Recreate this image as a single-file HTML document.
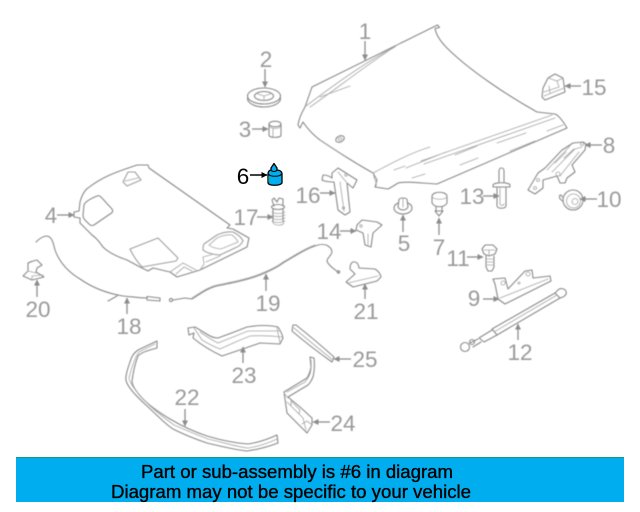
<!DOCTYPE html>
<html><head><meta charset="utf-8"><style>
html,body{margin:0;padding:0;background:#fff;width:640px;height:512px;overflow:hidden}
svg{display:block}
.d{fill:none;stroke:#8a8a8a;stroke-width:1.1;stroke-linejoin:round;stroke-linecap:round}
.w{fill:#fff;stroke:#8a8a8a;stroke-width:1.1;stroke-linejoin:round}
.l{fill:none;stroke:#a8a8a8;stroke-width:.85;stroke-linecap:round}
.t{font-family:"Liberation Sans",sans-serif;font-size:22.500px;fill:#999;text-anchor:middle}
.a{stroke:#8c8c8c;stroke-width:1.3;fill:none}
.soft{filter:blur(.4px)}
</style></head><body>
<svg width="640" height="512" viewBox="0 0 640 512" xmlns="http://www.w3.org/2000/svg">
<defs>
<marker id="ah" markerWidth="7" markerHeight="7" refX="5.500" refY="3" orient="auto" markerUnits="userSpaceOnUse"><path d="M0,0L6,3L0,6Z" fill="#8c8c8c"/></marker>
<marker id="ak" markerWidth="7" markerHeight="7" refX="5.500" refY="3" orient="auto" markerUnits="userSpaceOnUse"><path d="M0,0L6,3L0,6Z" fill="#000"/></marker>
</defs>
<g class="soft">
<!-- hood -->
<path class="d" d="M312,87L437.500,25L439.500,27.500L435,28.500C436,34 440,41 447,48C470,71 510,97 537,112L555,114Q560,116 567,128L437,184C420,183 405,181 398,183Q392,187 388,189L375,187L377,180L373,173C355,163 335,150 320,140C312,134 307,128 303,122L300,128L298,125C299,118 302,112 305,107Z"/>
<path class="l" d="M306,106C330,88 365,62 395,47"/>
<path class="l" d="M310,107C335,90 370,62 402,42"/>
<path class="l" d="M320,97L350,86"/>
<path class="l" d="M320,140C330,147 340,153 347,158"/>
<ellipse class="d" cx="340" cy="139" rx="4.500" ry="3" transform="rotate(-25 340 139)"/>
<ellipse class="l" cx="340" cy="139" rx="2" ry="1.200" transform="rotate(-25 340 139)"/>
<path class="l" d="M373,173C390,164 410,153 430,147"/>
<path class="l" d="M421,161L552,115M424,164L555,118M394,170L405,166M406,168L446,152M455,155L477,146M460,165L478,158M497,143L526,133M547,131L563,125M510,151L535,141M412,178L425,174"/>
<path class="l" d="M374,173C372,178 378,182 376,186"/>
<!-- pad -->
<path class="d" d="M137,165L148,165L149,168L230,225L227,228L233,229L249,238L247,247L200,270L177,277L170,272L153,268L148,271L140,267L127,260C115,256 108,252 103,247C98,240 96,238 92,235L80,223L80,218L74,217L74,212L79,211L80,202C82,195 85,190 88,188C105,175 120,171 137,165Z"/>
<path class="d" d="M97,196Q99,195 101,197L112,209Q114,212 110,214L94,225Q92,226 90,225L85,220Q83,218 83,215L84,205Q85,201 97,196Z"/>
<path class="d" d="M128,172L135,172L141,180L127,186L123,182Z" style="stroke:#a0a0a0"/>
<path class="l" d="M125,181L138,178"/>
<path class="d" d="M130,249L158,238L178,258L176,261L142,267Q134,258 130,249Z" style="stroke:#a0a0a0"/>
<path class="d" d="M217,235Q226,231 233,232Q241,236 243,241Q240,246 237,247L220,255Q208,254 203,250Q203,245 204,244Z" style="stroke:#a0a0a0"/>
<path class="l" d="M217,238Q226,234 232,235Q237,239 238,242L221,249Q212,248 209,245Z"/>
<path class="l" d="M170,272L183,263L196,270M176,274L184,267L192,271M200,270L204,264L203,257L214,254M206,262L220,256"/>
<!-- cable 18 -->
<path class="d" d="M36,242C40,238 44,236 47,236C52,237 53,242 55,250C60,264 70,273 80,279C90,286 105,293 123,296C133,297 140,298 147,298"/>
<path class="d" d="M147,296.500L160,298L160,301L147,300ZM108,301L117,296"/>
<!-- cable 19 -->
<circle class="d" cx="171" cy="300" r="1.600"/>
<path class="d" d="M173,300L185,298L192,299C200,294 208,288 217,286C232,283 247,280 260,275C270,271 278,267 283,263C292,258 305,249 315,246C320,244 325,244 328,246C331,248 332,250 332,252C331,256 327,258 327,261C328,265 334,269 338,272"/>
<path class="l" d="M192,298C200,293 208,287 217,285C232,282 247,279 260,274C270,270 278,266 283,262C292,257 305,248 315,245"/>
<circle class="d" cx="338.500" cy="272" r="1.200"/>
<!-- 21 -->
<path class="d" d="M350,269Q350,263 353,262Q358,261 359,268L375,269Q380,272 381,277L377,281L353,287L346,282L355,274Z"/>
<path class="l" d="M348,283L378,276"/>
<!-- 20 -->
<path class="d" d="M28,271L28,263Q32,261 37,260L42,265L37,268L36,272L44,277L32,280L23,276Z"/>
<path class="l" d="M28,271L36,273M32,279L32,276L43,275"/>
<!-- 9 -->
<path class="d" d="M493,279L505,278L508,289L525,271L532,270L533,278L550,276L551,281L505,304L498,299L495,284Z"/>
<path class="l" d="M500,298L548,279"/>
<circle class="l" cx="503" cy="283" r="2"/><circle class="l" cx="528" cy="274" r="2"/><circle class="l" cx="519" cy="283" r="1"/>
<!-- 12 -->
<path class="d" d="M492,329L555,293L560,298L497,335Z"/>
<path class="l" d="M494,332L557,295"/>
<path class="d" d="M555,293L558,290C560,288 564,288 566,291C567,294 565,296 563,297L560,298"/>
<path class="d" d="M492,330L479,338L484,342L497,335"/>
<path class="d" d="M478,339L470,343M481,342L473,347"/>
<circle class="d" cx="472" cy="342" r="2.500"/>
<circle class="d" cx="465" cy="347" r="4.500"/>
<!-- 22 -->
<path class="d" d="M157,341L138,350Q132,354 130,362Q125,376 126,380Q127,388 147,406C158,416 165,424 173,429C185,435 195,439 207,443C220,446 235,450 247,451Q262,449 278,443L277,435Q262,442 248,444C235,443 220,440 207,436C195,432 180,425 170,419C160,413 150,406 143,399C138,394 132,386 132,381Q134,366 138,356Q141,352 157,348Z"/>
<path class="l" d="M155,344L139,352Q134,358 129,378Q130,386 149,405C160,415 167,420 174,425C190,432 200,436 208,439C225,443 238,447 248,448Q262,446 277,439"/>
<!-- 23 -->
<path class="d" d="M188,328L195,327L205,333Q212,338 218,338Q232,333 247,327Q265,324 278,327Q282,333 283,338L280,344L260,343Q240,350 222,356Q205,348 193,338L194,333L189,335Z"/>
<path class="l" d="M194,328L202,340Q212,346 220,349Q235,342 250,336Q266,335 282,337M200,332Q210,339 218,343Q233,337 248,331L279,331M277,328L280,343"/>
<!-- 25 -->
<path class="d" d="M293,325L292,331Q312,348 332,362L334,357Q315,340 296,325Z"/>
<path class="l" d="M294,328Q314,345 333,360"/>
<!-- 24 -->
<path class="d" d="M310,357L314,358C315,368 314,372 313,377Q311,382 308,385L288,397L300,407L312,418L312,425L307,433L287,413L284,392L307,378Q310,373 311,367Z"/>
<path class="l" d="M284,393L288,398M287,402L303,418L306,430M291,401L300,410L299,414L291,406ZM311,360C312,372 310,376 305,382L287,392M302,424L307,421L311,424"/>
<!-- 2 -->
<ellipse class="d" cx="264" cy="98.500" rx="16.500" ry="8.500"/>
<ellipse class="w" cx="264" cy="96" rx="16.500" ry="8"/>
<ellipse class="d" cx="264" cy="96" rx="9.500" ry="4.500"/>
<path class="l" d="M264,96V100.500M264,96L256,93.500M264,96L272,93.500"/>
<!-- 3 -->
<path class="d" d="M269,124V135.500C270,138 280,138 281,135.500V124"/>
<ellipse class="d" cx="275" cy="124" rx="6" ry="2.800"/>
<path class="l" d="M270,127C272,129 278,129 280,127M273,129V137"/>
<!-- 17 -->
<path class="d" d="M274,206L272,200L274,198L277,202L279,198L283,199L283,206"/>
<ellipse class="d" cx="278" cy="207" rx="6.500" ry="2.500"/>
<path class="d" d="M273,209V222M283,209V222"/>
<path class="l" d="M272,212C275,214 282,214 285,212M272,215C275,217 282,217 285,215M272,218C275,220 282,220 285,218M272,221C275,223 282,223 285,221M273,223C276,226 282,226 284,223"/>
<!-- 16 -->
<path class="d" d="M332,173L338,168L357,180L353,188L347,183L350,212L345,215L338,210L334,182Q326,182 322,180L323,175Q328,175 332,178Z"/>
<path class="l" d="M338,172L347,183M340,182L344,211"/>
<circle class="l" cx="346" cy="175" r="1.200"/><circle class="l" cx="343.500" cy="208" r="1.200"/>
<!-- 5 -->
<ellipse class="d" cx="403" cy="208" rx="9" ry="6"/>
<path class="w" d="M398,207L399,199.500C400,197.500 406,197.500 407,199.500L408,207C406,211 400,211 398,207Z"/>
<path class="l" d="M403,198V207"/>
<!-- 7 -->
<path class="w" d="M432,196C433,191 446,191 447,196V203C444,208 435,208 432,203Z"/>
<path class="l" d="M432,197C435,200 444,200 447,197"/>
<path class="d" d="M436,207V211H442V207M435,211L439,216L443,211"/>
<!-- 13 -->
<path class="d" d="M499,182V171C499,167 504,167 504,171V182"/>
<path class="w" d="M493,185C494,182 509,182 510,185V187H493Z"/>
<path class="d" d="M497,188V206C498,209 505,209 506,206V188"/>
<path class="l" d="M500,188V204C501,206 503,206 504,204"/>
<!-- 10 -->
<path class="d" d="M562,197C562,194 558,194 560,199L565,203"/>
<circle class="w" cx="573" cy="200" r="10"/>
<circle class="l" cx="573.500" cy="201" r="7"/>
<circle class="l" cx="575" cy="201.500" r="3"/>
<!-- 8 -->
<path class="d" d="M583,142L573,143L562,150L545,168L538,173L528,190L535,194L543,188L543,180L557,176L560,183L565,183L567,178L575,172L572,165L585,150L586,144Z"/>
<path class="l" d="M547,170L570,146M552,172L575,149L582,147M560,176L579,152M564,158L574,149M555,163L566,152"/>
<circle class="l" cx="538" cy="180" r="1.500"/><circle class="l" cx="535" cy="188" r="1.500"/><circle class="l" cx="558" cy="174" r="2"/><circle class="l" cx="582" cy="144" r="1.500"/>
<!-- 15 -->
<path class="d" d="M543,88L548,78L555,74L563,78L565,92L545,100L542,97Z"/>
<path class="l" d="M548,78L557,81L563,78M557,81L559,87L544,92M544,96L564,88M549,86L550,93"/>
<!-- 14 -->
<path class="d" d="M357,225L362,220L377,222L382,225L373,233L371,247L365,245L363,233L356,230Z"/>
<path class="l" d="M368,234V245"/>
<circle class="l" cx="361" cy="226" r="1.200"/>
<!-- 11 -->
<path class="d" d="M484,254L482,249L485,245L493,245L497,249L495,254L489,256Z"/>
<path class="l" d="M484,250L495,250M489,250V256"/>
<path class="d" d="M486,256V267L488,271H492L494,267V256"/>
<path class="l" d="M486,259H494M486,262H494M486,265H494"/>
<!-- arrows -->
<g class="a">
<path d="M365,41V60" marker-end="url(#ah)"/>
<path d="M265,69V87" marker-end="url(#ah)"/>
<path d="M252,129H268" marker-end="url(#ah)"/>
<path d="M57,215H74" marker-end="url(#ah)"/>
<path d="M257,217H273" marker-end="url(#ah)"/>
<path d="M320,193H335" marker-end="url(#ah)"/>
<path d="M581,86H565" marker-end="url(#ah)"/>
<path d="M602,145H585" marker-end="url(#ah)"/>
<path d="M483,196H499" marker-end="url(#ah)"/>
<path d="M597,199H580" marker-end="url(#ah)"/>
<path d="M403,232V215" marker-end="url(#ah)"/>
<path d="M439,235V218" marker-end="url(#ah)"/>
<path d="M340,231H356" marker-end="url(#ah)"/>
<path d="M467,257H483" marker-end="url(#ah)"/>
<path d="M483,299H499" marker-end="url(#ah)"/>
<path d="M518,340V324" marker-end="url(#ah)"/>
<path d="M365,299V284" marker-end="url(#ah)"/>
<path d="M351,359H334" marker-end="url(#ah)"/>
<path d="M330,422H313" marker-end="url(#ah)"/>
<path d="M266,291V274" marker-end="url(#ah)"/>
<path d="M127,314V298" marker-end="url(#ah)"/>
<path d="M37,297V280" marker-end="url(#ah)"/>
<path d="M243,363V347" marker-end="url(#ah)"/>
<path d="M185,409V426" marker-end="url(#ah)"/>
</g>
<!-- labels -->
<g class="t">
<text x="365" y="39">1</text><text x="266" y="67">2</text><text x="245" y="137">3</text>
<text x="51" y="223">4</text><text x="404" y="251">5</text><text x="439" y="255">7</text>
<text x="609" y="153">8</text><text x="474" y="306">9</text><text x="609" y="207">10</text>
<text x="458" y="266">11</text><text x="520" y="360">12</text><text x="472" y="204">13</text>
<text x="329" y="239">14</text><text x="594" y="95">15</text><text x="308" y="203">16</text>
<text x="246" y="225">17</text><text x="129" y="334">18</text><text x="268" y="311">19</text>
<text x="38" y="317">20</text><text x="366" y="319">21</text><text x="187" y="405">22</text>
<text x="244" y="383">23</text><text x="343" y="431">24</text><text x="365" y="367">25</text>
</g>
</g>
<!-- 6 -->
<path d="M268,174C268,171 270,170 271,170L271,168L274,163.500L277,168L277,170C279,170 282,171 282,174V183C280,186 269,186 268,183Z" fill="#00adef" stroke="#000" stroke-width="1.300" stroke-linejoin="round"/>
<path d="M268.500,174C270,177 280,177 281.500,174" fill="none" stroke="#000" stroke-width="1"/>
<path d="M271,170C272,172 276,172 277,170" fill="none" stroke="#000" stroke-width="1"/>
<path d="M268.800,176V182" stroke="#2a9c50" stroke-width="1"/>
<path d="M250,175H267" stroke="#000" stroke-width="1.500" fill="none" marker-end="url(#ak)"/>
<text x="243" y="184" style="font-family:'Liberation Sans',sans-serif;font-size:22.500px;fill:#000;text-anchor:middle">6</text>
<!-- banner -->
<rect x="16" y="457" width="608" height="45" fill="#00adef"/>
<rect x="16" y="457" width="608" height="1" fill="#109a80"/>
<g style="font-family:'Liberation Sans',sans-serif;font-size:18.500px;fill:#000" stroke="#000" stroke-width=".35">
<text x="141" y="478" textLength="312" lengthAdjust="spacingAndGlyphs">Part or sub-assembly is #6 in diagram</text>
<text x="111" y="498" textLength="360" lengthAdjust="spacingAndGlyphs">Diagram may not be specific to your vehicle</text>
</g>
</svg>
</body></html>
